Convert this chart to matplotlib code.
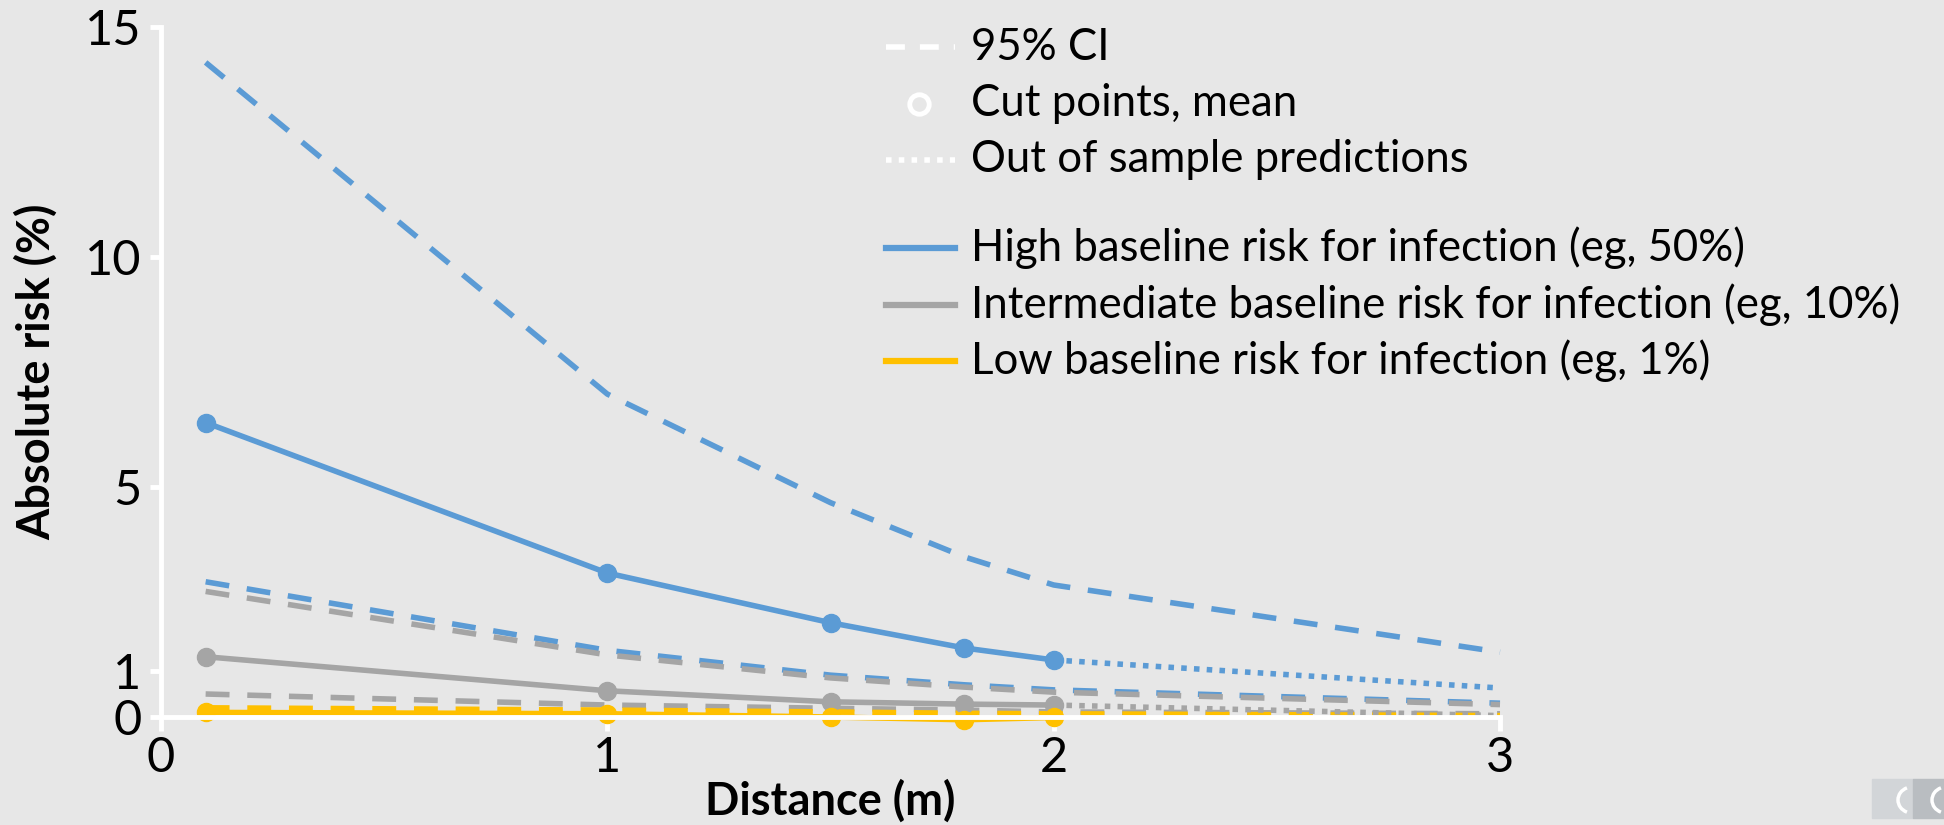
import matplotlib
matplotlib.use('Agg')
import matplotlib.pyplot as plt
from matplotlib.lines import Line2D
from matplotlib.patches import Rectangle, Arc

plt.rcParams['font.family'] = ['Lato', 'DejaVu Sans']

# data
cut_x = [0.1, 1, 1.5, 1.8, 2]
out_x = [2, 3]
ci_x = [0.1, 1, 1.5, 1.8, 2, 3]

high_mean = [6.40, 3.13, 2.05, 1.50, 1.24]
high_out = [1.24, 0.63]
high_upper = [14.23, 7.02, 4.66, 3.48, 2.87, 1.41]
high_lower = [2.94, 1.45, 0.91, 0.70, 0.59, 0.30]

mid_mean = [1.31, 0.57, 0.33, 0.28, 0.26]
mid_out = [0.26, 0.03]
mid_upper = [2.73, 1.35, 0.85, 0.65, 0.54, 0.27]
mid_lower = [0.50, 0.26, 0.19, 0.15, 0.11, 0.07]

low_mean = [0.10, 0.07, 0.0, -0.06, -0.01]
low_upper = [0.20, 0.15, 0.11, 0.08, 0.07, 0.03]

legend_top = ['95% CI', 'Cut points, mean', 'Out of sample predictions']
legend_bottom = ['High baseline risk for infection (eg, 50%)',
                 'Intermediate baseline risk for infection (eg, 10%)',
                 'Low baseline risk for infection (eg, 1%)']

bg = '#E7E7E7'
blue = '#5B9BD5'
grey = '#A5A5A5'
yellow = '#FFC000'

W, H = 1944, 825
fig = plt.figure(figsize=(W / 100, H / 100), dpi=100, facecolor=bg)
ax = fig.add_axes([161 / W, 1 - 717 / H, 1339 / W, 690 / H])
ax.set_facecolor(bg)

lw = 4
dash = (4.3, 3.2)
dot = (1.0, 1.3)

# confidence intervals
ax.plot(ci_x, high_upper, color=blue, lw=lw, dashes=dash, clip_on=False)
ax.plot(ci_x, high_lower, color=blue, lw=lw, dashes=dash, clip_on=False)
ax.plot(ci_x, mid_upper, color=grey, lw=lw, dashes=dash, clip_on=False)
ax.plot(ci_x, mid_lower, color=grey, lw=lw, dashes=dash, clip_on=False)
ax.plot(ci_x, low_upper, color=yellow, lw=lw, dashes=dash, clip_on=False)

# out of sample
ax.plot(out_x, high_out, color=blue, lw=lw, dashes=dot, clip_on=False)
ax.plot(out_x, mid_out, color=grey, lw=lw, dashes=dot, clip_on=False)

# means at the cut points
ax.plot(cut_x, high_mean, color=blue, lw=lw, marker='o', ms=13, clip_on=False)
ax.plot(cut_x, mid_mean, color=grey, lw=lw, marker='o', ms=13, clip_on=False)
ax.plot(cut_x, low_mean, color=yellow, lw=lw, marker='o', ms=13, clip_on=False)

ax.set_xlim(0, 3)
ax.set_ylim(0, 15)
ax.set_xticks([0, 1, 2, 3])
ax.set_yticks([0, 1, 5, 10, 15])
for s in ['top', 'right']:
    ax.spines[s].set_visible(False)
for s in ['left', 'bottom']:
    ax.spines[s].set_color('white')
    ax.spines[s].set_linewidth(3.5)
ax.tick_params(axis='both', colors='white', width=3.5, labelcolor='black', labelsize=35)
ax.tick_params(axis='y', length=8, pad=6)
ax.tick_params(axis='x', length=10, pad=4)

ax.set_ylabel('Absolute risk (%)', fontsize=32.5, fontweight='bold')
ax.set_xlabel('Distance (m)', fontsize=32.5, fontweight='bold')
ax.yaxis.set_label_coords(-0.077, 0.5)
ax.xaxis.set_label_coords(0.5, -0.09)

# legend, laid out by hand so the rows are evenly spaced
hx0, hx1, tx = 886, 955, 971
rows_top = [47, 103.5, 160]
rows_bottom = [248, 304.5, 361]
leg_fs = 31.5


def fy(py):
    return 1 - py / H


styles_top = [dict(color='white', lw=4, dashes=(3.4, 2.7)),
              None,
              dict(color='white', lw=4, dashes=(1.0, 1.3))]
for lab, py, st in zip(legend_top, rows_top, styles_top):
    if st is None:
        fig.add_artist(Line2D([(hx0 + hx1) / 2 / W - 2 / W], [fy(py)], ls='none', marker='o', ms=14,
                              mfc='none', mec='white', mew=3.5, transform=fig.transFigure))
    else:
        fig.add_artist(Line2D([hx0 / W, hx1 / W], [fy(py), fy(py)], transform=fig.transFigure, **st))
    fig.text(tx / W, fy(py), lab, fontsize=leg_fs, va='center', ha='left')

for lab, py, c in zip(legend_bottom, rows_bottom, [blue, grey, yellow]):
    fig.add_artist(Line2D([hx0 / W, hx1 / W], [fy(py), fy(py)], color=c, lw=4.5,
                          transform=fig.transFigure))
    fig.text(tx / W, fy(py), lab, fontsize=leg_fs, va='center', ha='left')

# little viewer controls in the corner
fig.patches.append(Rectangle((1872 / W, 7 / H), 41 / W, 39 / H,
                             transform=fig.transFigure, color='#D2D5D8'))
fig.patches.append(Rectangle((1913 / W, 7 / H), 31 / W, 39 / H,
                             transform=fig.transFigure, color='#B9BDC1'))
for cx in [1912, 1946]:
    fig.patches.append(Arc((cx / W, fy(800)), 28 / W, 26 / H,
                           theta1=100, theta2=260, transform=fig.transFigure,
                           color='white', lw=2.5))

fig.savefig('out.png', dpi=100, facecolor=bg)
